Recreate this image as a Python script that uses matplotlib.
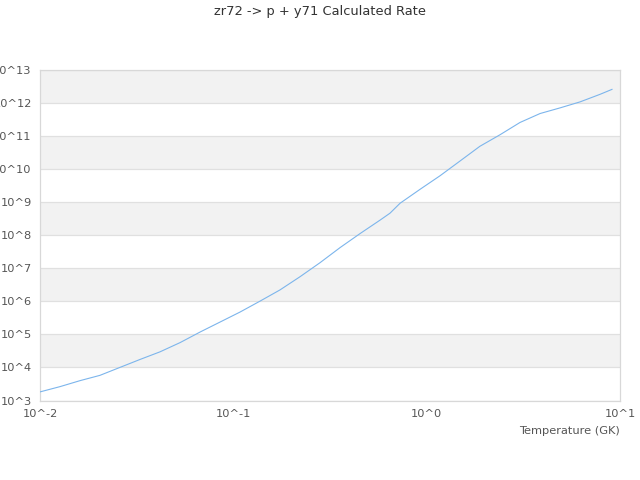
import numpy as np
import matplotlib.pyplot as plt
from matplotlib.ticker import FixedLocator, NullLocator

plt.rcParams['font.family'] = 'DejaVu Sans'

#%% Data
temperature = [0.01, 0.0127, 0.0161, 0.0204, 0.0259, 0.0329, 0.0417, 0.053, 0.0672,
               0.0852, 0.108, 0.137, 0.174, 0.221, 0.28, 0.356, 0.451, 0.573, 0.645,
               0.727, 0.922, 1.17, 1.48, 1.88, 2.39, 3.03, 3.85, 4.88, 6.19, 7.86, 9.06]
rate = [1.82e3, 2.63e3, 3.98e3, 5.75e3, 1.0e4, 1.74e4, 2.95e4, 5.62e4, 1.17e5,
        2.34e5, 4.68e5, 1.0e6, 2.19e6, 5.5e6, 1.45e7, 4.17e7, 1.10e8, 2.82e8, 4.57e8,
        9.12e8, 2.40e9, 6.17e9, 1.70e10, 4.79e10, 1.07e11, 2.51e11, 4.68e11, 6.92e11,
        1.05e12, 1.78e12, 2.51e12]
x_ticks = [1e-2, 1e-1, 1e0, 1e1]
x_labels = ['10^-2', '10^-1', '10^0', '10^1']
y_exps = list(range(3, 14))
y_labels = ['10^' + str(e) for e in y_exps]

#%% Plot
fig = plt.figure(figsize=(6.4, 4.8), dpi=100)
ax = fig.add_axes([0.0625, 0.1656, 0.9067, 0.6896])
ax.set_xscale('log')
ax.set_yscale('log')
ax.set_xlim(1e-2, 1e1)
ax.set_ylim(1e3, 1e13)

# alternating bands
for e in y_exps[:-1]:
    if e % 2 == 0:
        ax.axhspan(10.0**e, 10.0**(e + 1), color='#f2f2f2', zorder=0, lw=0)
for e in y_exps:
    ax.axhline(10.0**e, color='#e0e0e0', lw=0.9, zorder=1)

ax.plot(temperature, rate, color='#7cb5ec', lw=0.8, zorder=3)

ax.xaxis.set_major_locator(FixedLocator(x_ticks))
ax.xaxis.set_minor_locator(NullLocator())
ax.set_xticklabels(x_labels)
ax.yaxis.set_major_locator(FixedLocator([10.0**e for e in y_exps]))
ax.yaxis.set_minor_locator(NullLocator())
ax.set_yticklabels(y_labels)
ax.tick_params(length=0, labelsize=8.2, colors='#555555', pad=6)

for s in ax.spines.values():
    s.set_color('#d8d8d8')
    s.set_linewidth(0.9)

ax.set_xlabel('Temperature (GK)', loc='right', fontsize=8.2, color='#555555', labelpad=5.5)
fig.suptitle('zr72 -> p + y71 Calculated Rate', y=0.975, va='center', fontsize=9.4, color='#333333')

fig.savefig('out.png', dpi=100)
